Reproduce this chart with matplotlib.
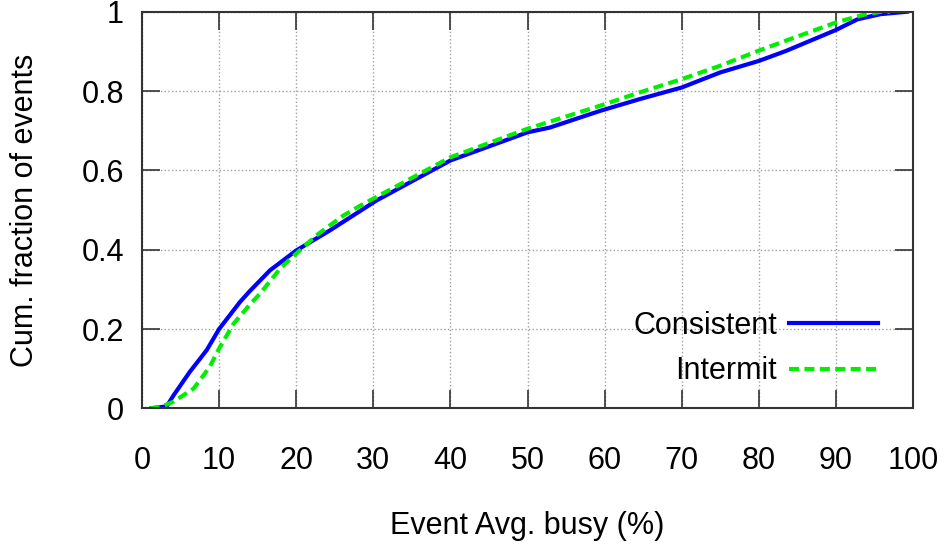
import matplotlib
matplotlib.use('Agg')
import matplotlib.pyplot as plt

# values (x = avg busy %, y = cumulative fraction)
consistent_x = [1.2, 3.2, 4.1, 6.2, 8.4, 10, 12.7, 14.0, 16.6, 20, 24.4, 30.4,
                40, 50, 52.9, 59.4, 64.6, 70, 75, 80, 83.5, 90, 92.8, 95.8, 99.2]
consistent_y = [0, 0.005, 0.033, 0.092, 0.147, 0.2, 0.268, 0.296, 0.348, 0.398,
                0.449, 0.524, 0.625, 0.696, 0.708, 0.75, 0.78, 0.809, 0.847,
                0.876, 0.901, 0.954, 0.981, 0.994, 1.0]

intermit_x = [1.0, 2.5, 4.1, 6.7, 8.8, 10, 11.9, 14.1, 15.3, 17.9, 20, 22.6,
              26.1, 28.3, 40, 50, 59.4, 64.6, 70, 75, 80, 82.8, 90, 93.5, 95.8, 97]
intermit_y = [0, 0.004, 0.017, 0.05, 0.105, 0.151, 0.214, 0.264, 0.289, 0.352,
              0.39, 0.436, 0.486, 0.511, 0.633, 0.705, 0.763, 0.797, 0.83,
              0.864, 0.902, 0.922, 0.973, 0.992, 1.0, 1.0]

x_ticks = [0, 10, 20, 30, 40, 50, 60, 70, 80, 90, 100]
y_ticks = [0, 0.2, 0.4, 0.6, 0.8, 1]
y_tick_labels = ['0', '0.2', '0.4', '0.6', '0.8', '1']

plt.rcParams['font.family'] = ['Liberation Sans', 'DejaVu Sans']
fs = 22

fig = plt.figure(figsize=(9.48, 5.47), dpi=100)
ax = fig.add_axes([0.1498, 0.2535, 0.8133, 0.725])

ax.plot(consistent_x, consistent_y, color='#0000ff', lw=3, label='Consistent')
ax.plot(intermit_x, intermit_y, color='#00ee00', lw=3, ls=(0, (2.4, 1.3)),
        label='Intermit')

ax.set_xlim(0, 100)
ax.set_ylim(0, 1)
ax.set_xticks(x_ticks)
ax.set_yticks(y_ticks)
ax.set_yticklabels(y_tick_labels)

ax.grid(True, color='#a0a0a0', ls=':', lw=1)
ax.tick_params(direction='in', length=13, width=1.2, color='#333333',
               labelsize=fs, top=True, right=True)
ax.tick_params(axis='x', pad=27)
ax.tick_params(axis='y', pad=13)
for s in ax.spines.values():
    s.set_linewidth(1.5)
    s.set_color('#333333')

ax.set_xlabel('Event Avg. busy (%)', fontsize=fs, labelpad=25)
ax.set_ylabel('Cum. fraction of events', fontsize=fs, labelpad=30)

ax.legend(loc='lower right', bbox_to_anchor=(0.97, 0.025), frameon=False,
          markerfirst=False, fontsize=fs, handlelength=2.9,
          handletextpad=0.4, labelspacing=0.5, borderaxespad=0)

fig.savefig('out.png', dpi=100)
